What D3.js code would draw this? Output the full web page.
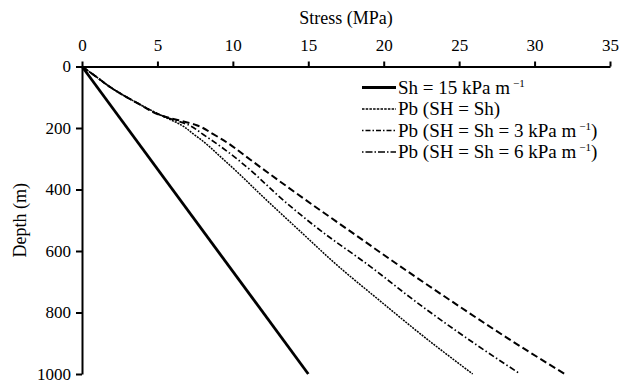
<!DOCTYPE html>
<html>
<head>
<meta charset="utf-8">
<script src="https://cdn.jsdelivr.net/npm/d3@7"></script>
<style>
  body { margin: 0; background: #fff; }
  svg text { font-family: "Liberation Serif", "Times New Roman", serif; fill: #000; }
</style>
</head>
<body>
<div id="chart"></div>
<script>
// ---- data ----
var xTicks = [0, 5, 10, 15, 20, 25, 30, 35];
var yTicks = [0, 200, 400, 600, 800, 1000];

// Sh = 15 kPa/m : straight line
var depthSh = [0, 1000];
var stressSh = [0, 15];

// Pb curves share the depths
var depthPb = [0, 30, 68, 119, 160, 191, 220, 250, 290, 330, 433, 533, 650, 760, 880, 1000];
var stressPbSh = [0, 0.85, 1.9, 3.67, 5.3, 6.6, 7.4, 8.2, 9.1, 10.0, 12.2, 14.4, 17.0, 19.7, 22.7, 25.9];
var stressPb3 = [0, 0.85, 1.9, 3.67, 5.3, 7.1, 8.0, 8.9, 10.0, 11.0, 13.3, 15.8, 19.1, 22.0, 25.4, 29.05];
var stressPb6 = [0, 0.85, 1.9, 3.67, 5.3, 7.6, 8.7, 9.7, 10.8, 11.9, 14.8, 17.7, 21.1, 24.4, 28.1, 32.0];

var seriesNames = ["Sh = 15 kPa m", "Pb (SH = Sh)", "Pb (SH = Sh = 3 kPa m", "Pb (SH = Sh = 6 kPa m"];

// ---- chart setup ----
var svgWidth = 620, svgHeight = 383;
var margin = { top: 66.5, right: 10, bottom: 9, left: 82 };
var chartWidth = svgWidth - margin.left - margin.right;
var chartHeight = svgHeight - margin.top - margin.bottom;

var svg = d3.select("#chart").append("svg")
    .attr("width", svgWidth)
    .attr("height", svgHeight);

var chartGroup = svg.append("g")
    .attr("transform", `translate(${margin.left}, ${margin.top})`);

var xScale = d3.scaleLinear().domain([0, 35]).range([0, chartWidth]);
var yScale = d3.scaleLinear().domain([0, 1000]).range([0, chartHeight]);

// axes
var topAxis = d3.axisTop(xScale).tickValues(xTicks).tickSize(5).tickSizeOuter(0).tickPadding(11);
var leftAxis = d3.axisLeft(yScale).tickValues(yTicks).tickFormat(d3.format("d"))
    .tickSize(6).tickSizeOuter(0).tickPadding(5);

var xAxisG = chartGroup.append("g").call(topAxis);
var yAxisG = chartGroup.append("g").call(leftAxis);

[xAxisG, yAxisG].forEach(function(g) {
  g.select(".domain").attr("stroke", "#000").attr("stroke-width", 2);
  g.selectAll(".tick line").attr("stroke", "#000").attr("stroke-width", 2);
  g.selectAll(".tick text")
    .style("font-family", "'Liberation Serif', serif")
    .style("font-size", "17px")
    .attr("fill", "#000");
});

// axis titles
svg.append("text")
    .attr("x", margin.left + chartWidth / 2)
    .attr("y", 24)
    .attr("text-anchor", "middle")
    .style("font-size", "18px")
    .text("Stress (MPa)");

svg.append("text")
    .attr("transform", `translate(26, ${margin.top + chartHeight / 2}) rotate(-90)`)
    .attr("text-anchor", "middle")
    .style("font-size", "18px")
    .text("Depth (m)");

// lines
var series = [
  { stress: stressSh, depth: depthSh, width: 2.8, dash: null, legendDash: null },
  { stress: stressPbSh, depth: depthPb, width: 1.5, dash: "2,1", legendDash: "2.5,1.2" },
  { stress: stressPb3, depth: depthPb, width: 1.7, dash: "6,2.5,1.5,2.5", legendDash: "1.5,2,5,2" },
  { stress: stressPb6, depth: depthPb, width: 2, dash: "7,3.5", legendDash: "1.5,2,7,2" }
];

var line = d3.line()
    .x(d => xScale(d[0]))
    .y(d => yScale(d[1]))
    .curve(d3.curveMonotoneY);

series.forEach(function(s) {
  var pts = s.stress.map((v, i) => [v, s.depth[i]]);
  chartGroup.append("path")
      .datum(pts)
      .attr("d", line)
      .attr("fill", "none")
      .attr("stroke", "#000")
      .attr("stroke-width", s.width)
      .attr("stroke-dasharray", s.dash);
});

// legend
var legend = svg.append("g").attr("transform", "translate(362, 87.5)");
series.forEach(function(s, i) {
  var row = legend.append("g").attr("transform", `translate(0, ${i * 21.5})`);
  row.append("line")
      .attr("x1", 0).attr("x2", 34)
      .attr("y1", 0).attr("y2", 0)
      .attr("stroke", "#000")
      .attr("stroke-width", i == 0 ? 2.8 : 1.6)
      .attr("stroke-dasharray", s.legendDash);
  var t = row.append("text")
      .attr("x", 36)
      .attr("y", 6)
      .style("font-size", "19px");
  t.append("tspan").text(seriesNames[i]);
  if (i != 1) {
    t.append("tspan").attr("dx", 3).attr("dy", -7).style("font-size", "11px").text("\u22121");
    if (i > 1) t.append("tspan").attr("dy", 7).text(")");
  }
});
</script>
</body>
</html>
